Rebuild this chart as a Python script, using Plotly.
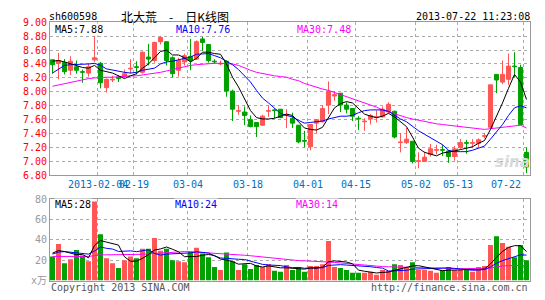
import plotly.graph_objects as go

# ---------------- data ----------------
opens = [8.46, 8.41, 8.42, 8.31, 8.36, 8.29, 8.27, 8.46, 8.41, 8.06,
         8.17, 8.21, 8.22, 8.33, 8.36, 8.28, 8.50, 8.45, 8.72, 8.72,
         8.49, 8.31, 8.43, 8.51, 8.47, 8.76, 8.68, 8.44, 8.40, 8.44,
         8.01, 7.72, 7.71, 7.60, 7.56, 7.52, 7.72, 7.74, 7.75, 7.66,
         7.62, 7.52, 7.30, 7.21, 7.55, 7.57, 7.81, 7.94, 7.98, 7.81,
         7.76, 7.62, 7.57, 7.61, 7.63, 7.64, 7.71, 7.72, 7.27, 7.27,
         7.29, 7.00, 7.00, 7.10, 7.16, 7.17, 7.15, 7.07, 7.20, 7.27,
         7.26, 7.26, 7.36, 7.49, 8.25, 8.14, 8.18, 8.37, 8.35, 7.13]
highs = [8.46, 8.56, 8.47, 8.51, 8.45, 8.32, 8.41, 8.80, 8.43, 8.19,
         8.23, 8.24, 8.32, 8.47, 8.44, 8.58, 8.69, 8.72, 8.80, 8.72,
         8.51, 8.49, 8.55, 8.76, 8.74, 8.79, 8.68, 8.47, 8.45, 8.45,
         8.03, 7.81, 7.79, 7.66, 7.56, 7.67, 7.81, 7.76, 7.75, 7.75,
         7.70, 7.52, 7.44, 7.53, 7.61, 7.81, 8.15, 8.01, 7.98, 7.85,
         7.76, 7.65, 7.62, 7.68, 7.73, 7.79, 7.85, 7.73, 7.41, 7.48,
         7.29, 7.13, 7.14, 7.25, 7.24, 7.24, 7.16, 7.22, 7.32, 7.31,
         7.32, 7.33, 7.41, 8.10, 8.25, 8.45, 8.55, 8.57, 8.39, 7.20]
lows = [8.26, 8.18, 8.25, 8.24, 8.26, 8.13, 8.22, 8.43, 8.05, 7.99,
        8.14, 8.14, 8.20, 8.26, 8.25, 8.26, 8.38, 8.42, 8.68, 8.38,
        8.21, 8.22, 8.38, 8.31, 8.46, 8.59, 8.42, 8.40, 8.38, 7.93,
        7.58, 7.67, 7.52, 7.49, 7.35, 7.51, 7.64, 7.62, 7.62, 7.48,
        7.48, 7.26, 7.20, 7.16, 7.41, 7.56, 7.68, 7.87, 7.71, 7.69,
        7.58, 7.45, 7.44, 7.53, 7.56, 7.63, 7.69, 7.33, 7.13, 7.25,
        6.97, 6.90, 6.99, 7.07, 7.10, 7.08, 6.98, 7.01, 7.18, 7.11,
        7.19, 7.20, 7.33, 7.48, 7.98, 8.11, 8.10, 8.21, 7.52, 6.83]
closes = [8.39, 8.45, 8.29, 8.44, 8.31, 8.28, 8.36, 8.49, 8.13, 8.18,
          8.18, 8.19, 8.26, 8.34, 8.35, 8.57, 8.47, 8.71, 8.78, 8.45,
          8.26, 8.45, 8.52, 8.45, 8.72, 8.71, 8.45, 8.43, 8.41, 8.01,
          7.75, 7.73, 7.66, 7.50, 7.50, 7.65, 7.73, 7.73, 7.63, 7.67,
          7.55, 7.28, 7.29, 7.53, 7.60, 7.76, 8.01, 7.96, 7.81, 7.75,
          7.65, 7.61, 7.58, 7.66, 7.64, 7.75, 7.82, 7.35, 7.28, 7.32,
          7.00, 7.01, 7.06, 7.18, 7.17, 7.16, 7.07, 7.18, 7.27, 7.26,
          7.27, 7.31, 7.37, 8.10, 8.17, 8.25, 8.37, 8.36, 7.53, 6.92]

ma5 = [8.44, 8.45, 8.43, 8.40, 8.38, 8.35, 8.34, 8.38, 8.31, 8.29,
       8.27, 8.23, 8.19, 8.23, 8.26, 8.34, 8.40, 8.49, 8.58, 8.60,
       8.53, 8.53, 8.49, 8.43, 8.48, 8.57, 8.57, 8.55, 8.54, 8.40,
       8.21, 8.07, 7.91, 7.73, 7.63, 7.61, 7.61, 7.62, 7.65, 7.68,
       7.66, 7.57, 7.48, 7.46, 7.45, 7.49, 7.64, 7.77, 7.83, 7.86,
       7.84, 7.76, 7.68, 7.65, 7.63, 7.65, 7.69, 7.64, 7.57, 7.50,
       7.35, 7.19, 7.13, 7.11, 7.08, 7.12, 7.13, 7.15, 7.17, 7.19,
       7.21, 7.26, 7.30, 7.46, 7.64, 7.84, 8.05, 8.25, 8.14, 7.89]
ma10 = [8.27, 8.33, 8.38, 8.39, 8.39, 8.39, 8.40, 8.41, 8.38, 8.33,
        8.31, 8.29, 8.28, 8.27, 8.28, 8.31, 8.32, 8.34, 8.40, 8.43,
        8.44, 8.46, 8.49, 8.50, 8.54, 8.55, 8.55, 8.52, 8.49, 8.44,
        8.39, 8.32, 8.23, 8.14, 8.02, 7.91, 7.84, 7.77, 7.69, 7.66,
        7.64, 7.59, 7.55, 7.56, 7.57, 7.58, 7.61, 7.63, 7.65, 7.65,
        7.66, 7.70, 7.73, 7.74, 7.74, 7.74, 7.72, 7.66, 7.61, 7.57,
        7.50, 7.44, 7.39, 7.34, 7.29, 7.24, 7.16, 7.14, 7.14, 7.14,
        7.16, 7.19, 7.22, 7.32, 7.42, 7.53, 7.66, 7.77, 7.80, 7.77]
ma30 = [8.08, 8.10, 8.12, 8.14, 8.16, 8.18, 8.19, 8.20, 8.21, 8.21,
        8.21, 8.22, 8.22, 8.23, 8.23, 8.24, 8.25, 8.26, 8.28, 8.30,
        8.32, 8.35, 8.36, 8.38, 8.39, 8.40, 8.41, 8.41, 8.41, 8.41,
        8.40, 8.38, 8.34, 8.31, 8.28, 8.26, 8.24, 8.23, 8.22, 8.21,
        8.18, 8.16, 8.12, 8.09, 8.06, 8.04, 8.02, 7.99, 7.97, 7.94,
        7.91, 7.88, 7.84, 7.81, 7.78, 7.74, 7.71, 7.68, 7.66, 7.63,
        7.61, 7.59, 7.57, 7.55, 7.54, 7.53, 7.52, 7.51, 7.50, 7.49,
        7.48, 7.47, 7.46, 7.47, 7.48, 7.49, 7.51, 7.52, 7.52, 7.48]

volumes = [23.7, 36.0, 17.0, 21.0, 30.0, 24.7, 19.0, 77.8, 45.6, 21.8,
           17.0, 12.3, 20.0, 23.7, 21.8, 31.3, 31.3, 41.8, 29.4, 31.3,
           20.0, 19.0, 18.0, 28.5, 32.3, 26.6, 22.8, 13.3, 10.4, 27.5,
           19.0, 10.4, 16.0, 11.4, 15.2, 13.3, 16.0, 9.5, 8.5, 15.2,
           10.4, 13.3, 8.5, 14.2, 14.2, 16.0, 38.9, 13.3, 12.3, 10.4,
           7.6, 7.6, 7.6, 8.5, 5.7, 10.4, 9.5, 16.0, 15.2, 13.3,
           18.0, 10.4, 10.4, 9.5, 7.6, 10.4, 13.3, 10.4, 10.4, 10.4,
           8.5, 13.3, 14.2, 35.0, 43.7, 37.0, 33.2, 22.8, 35.0, 20.0]
vma5 = [27.0, 29.5, 28.5, 27.0, 25.5, 25.7, 22.3, 34.5, 39.4, 37.8,
        36.2, 34.9, 23.3, 19.0, 19.0, 21.8, 25.6, 30.0, 31.1, 33.0,
        30.8, 28.3, 23.5, 23.4, 23.6, 24.9, 25.6, 24.7, 21.1, 20.1,
        18.6, 16.1, 16.7, 16.9, 14.4, 13.3, 14.4, 13.1, 12.5, 12.5,
        11.9, 11.4, 11.2, 12.3, 12.1, 13.2, 18.4, 19.3, 18.9, 18.2,
        16.5, 10.2, 9.1, 8.3, 7.4, 8.0, 8.3, 10.0, 11.4, 12.9,
        14.4, 14.6, 13.5, 12.3, 11.2, 9.7, 10.2, 10.2, 10.4, 11.0,
        10.6, 10.6, 11.4, 16.3, 22.9, 28.6, 32.6, 34.3, 34.3, 28.5]
vma10 = [26.0, 28.0, 28.5, 28.0, 27.0, 26.5, 26.0, 29.0, 33.0, 31.7,
         31.0, 28.6, 28.9, 29.2, 28.4, 29.0, 30.3, 26.7, 25.0, 26.0,
         26.3, 27.0, 26.8, 27.2, 28.3, 27.8, 27.0, 24.1, 22.2, 21.8,
         21.7, 20.9, 20.7, 19.0, 17.3, 15.9, 15.3, 14.9, 14.7, 13.5,
         12.6, 12.9, 12.1, 12.4, 12.3, 12.6, 14.9, 15.3, 15.6, 15.2,
         14.9, 14.3, 14.2, 13.6, 12.8, 12.2, 9.3, 9.6, 9.9, 10.1,
         11.2, 11.5, 11.7, 11.8, 12.0, 12.0, 12.4, 11.9, 11.4, 11.1,
         10.1, 10.4, 10.8, 13.4, 17.0, 19.6, 21.6, 22.9, 25.3, 25.0]
vma30 = [23.7, 23.7, 23.7, 23.7, 23.7, 23.7, 23.7, 24.5, 25.3, 25.3,
         25.3, 25.3, 25.3, 25.3, 25.5, 25.8, 26.2, 26.6, 27.0, 27.6,
         28.0, 28.3, 28.5, 28.3, 28.0, 27.6, 27.2, 27.0, 26.7, 26.3,
         25.8, 25.4, 24.9, 24.4, 23.8, 23.2, 22.8, 22.0, 21.3, 20.5,
         19.8, 19.6, 19.4, 19.2, 19.0, 18.6, 18.2, 17.8, 17.3, 16.7,
         16.1, 15.5, 14.8, 14.2, 14.0, 13.7, 13.5, 13.3, 13.1, 12.9,
         12.7, 12.5, 12.3, 12.1, 12.0, 11.9, 11.8, 11.8, 11.7, 11.7,
         11.7, 11.8, 11.9, 12.2, 13.2, 14.4, 14.6, 14.7, 14.8, 14.9]

date_labels = ["2013-02-04", "02-19", "03-04", "03-18", "04-01",
               "04-15", "05-02", "05-13", "07-22"]
date_idx = [8, 14, 23, 33, 43, 51, 61, 68, 79]
price_ticks = [6.8, 7.0, 7.2, 7.4, 7.6, 7.8, 8.0, 8.2, 8.4, 8.6, 8.8, 9.0]
vol_ticks = [0, 20, 40, 60, 80]
vol_ticktext = ["x万", "20", "40", "60", "80"]

# ---------------- styling ----------------
RED = "#ff5555"
GREEN = "#00a000"
MONO = "DejaVu Sans Mono, Noto Sans CJK SC, monospace"
W, H = 545, 300
L, R = 50, 15
PW = W - L - R


def px_x(p):
    return (p - L) / PW


def px_y(p):
    return (H - p) / H


n = len(closes)
idx = list(range(n))
up = [c >= o for o, c in zip(opens, closes)]

fig = go.Figure()

# wicks
for flag, col in ((True, RED), (False, GREEN)):
    wx, wy = [], []
    for i in idx:
        if up[i] == flag:
            wx += [i, i, None]
            wy += [lows[i], highs[i], None]
    fig.add_trace(go.Scatter(x=wx, y=wy, mode="lines",
                             line=dict(color=col, width=1),
                             xaxis="x", yaxis="y", hoverinfo="skip"))

# bodies
for flag, col in ((True, RED), (False, GREEN)):
    bx = [i for i in idx if up[i] == flag]
    base = [min(opens[i], closes[i]) for i in bx]
    hgt = [abs(closes[i] - opens[i]) for i in bx]
    fig.add_trace(go.Bar(x=bx, y=hgt, base=base, width=0.68,
                         marker=dict(color=col, line=dict(color=col, width=1)),
                         xaxis="x", yaxis="y", hoverinfo="skip"))

for arr, col in ((ma30, "#ff00ff"), (ma10, "#0000ff"), (ma5, "#000000")):
    fig.add_trace(go.Scatter(x=idx, y=arr, mode="lines",
                             line=dict(color=col, width=1),
                             xaxis="x", yaxis="y", hoverinfo="skip"))

# volume
fig.add_trace(go.Bar(x=idx, y=volumes, width=0.83,
                     marker=dict(color=[RED if u else GREEN for u in up],
                                 line=dict(width=0)),
                     xaxis="x2", yaxis="y2", hoverinfo="skip"))
for arr, col in ((vma30, "#ff00ff"), (vma10, "#0000ff"), (vma5, "#000000")):
    fig.add_trace(go.Scatter(x=idx, y=arr, mode="lines",
                             line=dict(color=col, width=1),
                             xaxis="x2", yaxis="y2", hoverinfo="skip"))

xr = [-0.4167, n - 0.4167]
grid_x = [i - 0.5 for i in date_idx]
axis_common = dict(showline=True, mirror=True, linecolor="#999999", linewidth=1,
                   zeroline=False, ticks="", showgrid=True, gridcolor="#aaaaaa",
                   griddash="dot", gridwidth=1, fixedrange=True)

fig.update_layout(
    width=W, height=H,
    margin=dict(l=L, r=R, t=0, b=0),
    paper_bgcolor="white", plot_bgcolor="white",
    showlegend=False, barmode="overlay",
    font=dict(family=MONO, size=10, color="#000000"),
    xaxis=dict(domain=[0, 1], range=xr, anchor="y", tickvals=grid_x,
               showticklabels=False, **axis_common),
    yaxis=dict(domain=[0.4107, 0.9403], range=[6.8, 9.0], tickvals=price_ticks,
               ticktext=["%.2f" % v for v in price_ticks],
               tickfont=dict(color="#ff0000", size=10, family=MONO),
               anchor="x", **axis_common),
    xaxis2=dict(domain=[0, 1], range=xr, anchor="y2", tickvals=grid_x,
                showticklabels=False, **axis_common),
    yaxis2=dict(domain=[0.0467, 0.3277], range=[0, 80], tickvals=vol_ticks,
                ticktext=vol_ticktext,
                tickfont=dict(color="#999999", size=10, family=MONO),
                anchor="x2", **axis_common),
)

ann = []


def text(s, x, y, color="#000000", xanchor="left", size=10, bg=None, family=MONO):
    d = dict(text=s, x=x, y=y, xref="paper", yref="paper", showarrow=False,
             xanchor=xanchor, yanchor="middle",
             font=dict(color=color, size=size, family=family), borderpad=0)
    if bg:
        d["bgcolor"] = bg
    ann.append(d)


# header
text("sh600598", px_x(48), px_y(12))
text("北大荒\u3000-\u3000日K线图", px_x(120), px_y(12), size=12,
     family="Noto Sans CJK SC, sans-serif")
text("2013-07-22 11:23:08", px_x(531), px_y(12), xanchor="right")

# MA labels main
text("MA5:7.88", px_x(54), px_y(25), color="#000000", bg="white")
text("MA10:7.76", px_x(175), px_y(25), color="#0000ff", bg="white")
text("MA30:7.48", px_x(296), px_y(25), color="#ff00ff", bg="white")

# MA labels volume
text("MA5:28", px_x(54), px_y(207), color="#000000", bg="white")
text("MA10:24", px_x(174), px_y(207), color="#0000ff", bg="white")
text("MA30:14", px_x(295), px_y(207), color="#ff00ff", bg="white")

# date labels
for lab, i in zip(date_labels, date_idx):
    if i == n - 1:
        ann.append(dict(text=lab, x=xr[1] - 1.1, y=px_y(186.5), xref="x", yref="paper",
                        xanchor="right", yanchor="middle", showarrow=False,
                        font=dict(color="#0070c0", size=10, family=MONO)))
    else:
        ann.append(dict(text=lab, x=i - 0.5, y=px_y(186.5), xref="x", yref="paper",
                        xanchor="center", yanchor="middle", showarrow=False,
                        font=dict(color="#0070c0", size=10, family=MONO)))

# footer
text("Copyright 2013 SINA.COM", px_x(50), px_y(293), color="#555555")
text("http://finance.sina.com.cn", px_x(529), px_y(293), color="#555555",
     xanchor="right")

# watermark
text("<b><i>sina</i></b>", px_x(494), px_y(163), color="#d9d9d9", size=15,
     family="DejaVu Sans, sans-serif")

fig.update_layout(annotations=ann)
fig.write_html("out.html")
